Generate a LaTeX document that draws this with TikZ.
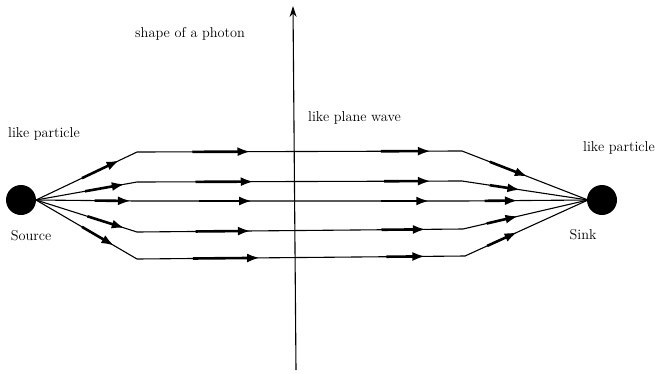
\documentclass[tikz,border=0pt]{standalone}
\usetikzlibrary{arrows.meta,calc}
\begin{document}
\begin{tikzpicture}[x=1pt,y=-1pt,
  lbl/.style={font=\fontsize{14.3}{17}\selectfont, inner sep=0pt},
  ray/.style={line width=1.1pt, black},
  thk/.style={line width=2.6pt, -{Latex[length=13pt,width=9pt]}, shorten >=-3pt},
  ball/.style={circle, fill=black, minimum size=30pt, inner sep=0pt}]
\useasboundingbox (0,0) rectangle (655,373);
% axis
\coordinate (axb) at (296,370);
\coordinate (axt) at (293,6);
\draw[line width=1.1pt, -{Stealth[length=11pt,width=7pt]}] (axb) -- (axt);
% source and sink
\node[ball] (src) at (21,200) {};
\node[ball] (snk) at (602,200) {};
\coordinate (A) at (36,200);
\coordinate (D) at (588,200);
% rays
\foreach \i/\yb/\yc/\xc/\la/\lb/\ma/\mb/\mc/\md/\ra/\rb in {
  1/152/151/462/0.455/0.80/0.17/0.34/0.75/0.895/0.22/0.50,
  2/182/181/462/0.485/0.85/0.18/0.35/0.76/0.895/0.22/0.44,
  3/201/201/462/0.58/0.91/0.19/0.345/0.75/0.89/0.18/0.42,
  4/232/229/463/0.51/0.85/0.18/0.34/0.75/0.877/0.19/0.42,
  5/259/256/465/0.455/0.75/0.17/0.366/0.76/0.87/0.18/0.405}{
  \coordinate (B\i) at (137,\yb);
  \coordinate (C\i) at (\xc,\yc);
  \draw[ray] (A) -- (B\i) -- (C\i) -- (D);
  \draw[thk] ($(A)!\la!(B\i)$) -- ($(A)!\lb!(B\i)$);
  \draw[thk] ($(B\i)!\ma!(C\i)$) -- ($(B\i)!\mb!(C\i)$);
  \draw[thk] ($(B\i)!\mc!(C\i)$) -- ($(B\i)!\md!(C\i)$);
  \draw[thk] ($(C\i)!\ra!(D)$) -- ($(C\i)!\rb!(D)$);
}
% labels
\node[lbl, anchor=west] (lp1) at (8,134) {like particle};
\node[lbl] (srcl) at (31,236) {Source};
\node[lbl] (sinkl) at (583,235) {Sink};
\node[lbl, anchor=west] (lp2) at (583,148) {like particle};
\node[lbl, anchor=west] (ph) at (135,34) {shape of a photon};
\node[lbl, anchor=west] (pw) at (308,118) {like plane wave};
\end{tikzpicture}
\end{document}
